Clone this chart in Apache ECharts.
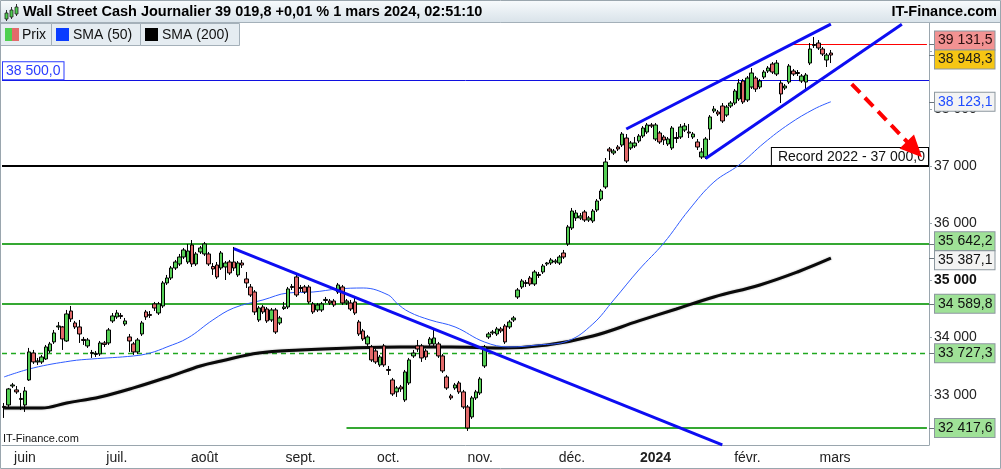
<!DOCTYPE html>
<html><head><meta charset="utf-8">
<script src="https://cdn.jsdelivr.net/npm/echarts@6/dist/echarts.min.js"></script>
<style>html,body{margin:0;padding:0;background:#fff}#c{width:1001px;height:469px}</style>
</head><body><div id="c"></div>
<script>
const categories = [
'2023-05-25','2023-05-26','2023-05-29','2023-05-30','2023-05-31',
'2023-06-01','2023-06-02','2023-06-05','2023-06-06','2023-06-07','2023-06-08','2023-06-09','2023-06-12','2023-06-13','2023-06-14','2023-06-15','2023-06-16','2023-06-19','2023-06-20','2023-06-21','2023-06-22','2023-06-23','2023-06-26','2023-06-27','2023-06-28','2023-06-29','2023-06-30',
'2023-07-03','2023-07-04','2023-07-05','2023-07-06','2023-07-07','2023-07-10','2023-07-11','2023-07-12','2023-07-13','2023-07-14','2023-07-17','2023-07-18','2023-07-19','2023-07-20','2023-07-21','2023-07-24','2023-07-25','2023-07-26','2023-07-27','2023-07-28','2023-07-31',
'2023-08-01','2023-08-02','2023-08-03','2023-08-04','2023-08-07','2023-08-08','2023-08-09','2023-08-10','2023-08-11','2023-08-14','2023-08-15','2023-08-16','2023-08-17','2023-08-18','2023-08-21','2023-08-22','2023-08-23','2023-08-24','2023-08-25','2023-08-28','2023-08-29','2023-08-30','2023-08-31',
'2023-09-01','2023-09-04','2023-09-05','2023-09-06','2023-09-07','2023-09-08','2023-09-11','2023-09-12','2023-09-13','2023-09-14','2023-09-15','2023-09-18','2023-09-19','2023-09-20','2023-09-21','2023-09-22','2023-09-25','2023-09-26','2023-09-27','2023-09-28','2023-09-29',
'2023-10-02','2023-10-03','2023-10-04','2023-10-05','2023-10-06','2023-10-09','2023-10-10','2023-10-11','2023-10-12','2023-10-13','2023-10-16','2023-10-17','2023-10-18','2023-10-19','2023-10-20','2023-10-23','2023-10-24','2023-10-25','2023-10-26','2023-10-27','2023-10-30','2023-10-31',
'2023-11-01','2023-11-02','2023-11-03','2023-11-06','2023-11-07','2023-11-08','2023-11-09','2023-11-10','2023-11-13','2023-11-14','2023-11-15','2023-11-16','2023-11-17','2023-11-20','2023-11-21','2023-11-22','2023-11-23','2023-11-24','2023-11-27','2023-11-28','2023-11-29','2023-11-30',
'2023-12-01','2023-12-04','2023-12-05','2023-12-06','2023-12-07','2023-12-08','2023-12-11','2023-12-12','2023-12-13','2023-12-14','2023-12-15','2023-12-18','2023-12-19','2023-12-20','2023-12-21','2023-12-22','2023-12-26','2023-12-27','2023-12-28','2023-12-29',
'2024-01-02','2024-01-03','2024-01-04','2024-01-05','2024-01-08','2024-01-09','2024-01-10','2024-01-11','2024-01-12','2024-01-15','2024-01-16','2024-01-17','2024-01-18','2024-01-19','2024-01-22','2024-01-23','2024-01-24','2024-01-25','2024-01-26','2024-01-29','2024-01-30','2024-01-31',
'2024-02-01','2024-02-02','2024-02-05','2024-02-06','2024-02-07','2024-02-08','2024-02-09','2024-02-12','2024-02-13','2024-02-14','2024-02-15','2024-02-16','2024-02-19','2024-02-20','2024-02-21','2024-02-22','2024-02-23','2024-02-26','2024-02-27','2024-02-28','2024-02-29',
'2024-03-01','2024-03-04','2024-03-05','2024-03-06','2024-03-07','2024-03-08','2024-03-11','2024-03-12','2024-03-13','2024-03-14','2024-03-15','2024-03-18','2024-03-19','2024-03-20','2024-03-21','2024-03-22','2024-03-25','2024-03-26','2024-03-27','2024-03-28','2024-03-29',
'2024-04-01','2024-04-02'];

// [open, close, low, high]
const ohlc = [
[32796,32778,32595,32857],[32822,33102,32787,33119],[33154,33172,33119,33207],[33085,33050,33015,33154],[32936,32919,32735,33032],
[32822,33067,32700,33137],[33259,33749,33242,33819],[33731,33574,33539,33784],[33574,33591,33522,33644],[33574,33661,33539,33696],
[33626,33836,33609,33871],[33766,33889,33731,33924],[33924,34081,33889,34133],[34186,34203,34133,34273],[34186,33976,33784,34203],
[33941,34413,33924,34483],[34465,34326,34273,34553],[34256,34186,34151,34291],[34186,34063,33906,34308],[33968,33950,33871,34011],
[33854,33958,33819,33993],[33740,33723,33644,33784],[33723,33705,33661,33766],[33714,33906,33679,33941],[33906,33880,33836,33941],
[33906,34133,33871,34168],[34291,34378,34256,34430],[34361,34430,34326,34483],[34387,34369,34326,34430],[34238,34291,34203,34343],
[34011,33941,33749,34063],[33889,33749,33696,33924],[33749,33958,33714,33993],[34063,34256,34028,34291],[34448,34361,34308,34483],
[34404,34387,34343,34465],[34588,34518,34465,34623],[34430,34588,34395,34623],[34553,34955,34518,34990],[34955,35042,34920,35095],
[35042,35217,35007,35252],[35217,35322,35182,35357],[35287,35409,35252,35462],[35409,35532,35374,35567],[35322,35514,35287,35637],
[35619,35287,35235,35706],[35287,35462,35252,35497],[35497,35567,35462,35602],[35462,35637,35427,35672],[35462,35287,35252,35497],
[35243,35200,35095,35304],[35269,35060,35025,35322],[35217,35479,35182,35514],[35235,35304,35007,35339],[35322,35130,35095,35357],
[35322,35217,35165,35584],[35095,35304,35060,35339],[35304,35269,35217,35357],[35025,34955,34867,35147],[34885,34745,34710,34937],
[34797,34448,34395,34832],[34308,34518,34273,34553],[34535,34448,34413,34570],[34500,34291,34256,34535],[34308,34483,34273,34518],
[34483,34098,34063,34518],[34256,34343,34221,34378],[34509,34535,34483,34623],[34535,34850,34500,34885],[34894,34876,34832,34937],
[35060,34745,34710,35095],[34876,34859,34797,34920],[34885,34797,34762,34920],[34885,34623,34588,34920],[34588,34448,34413,34623],
[34483,34570,34448,34605],[34483,34588,34448,34623],[34649,34667,34605,34710],[34640,34605,34570,34675],[34640,34570,34535,34675],
[34797,34920,34762,34955],[34885,34605,34570,34920],[34605,34640,34570,34675],[34605,34500,34465,34658],[34623,34430,34395,34728],
[34273,34063,34028,34308],[34116,33976,33941,34151],[33889,34011,33854,34046],[33836,33609,33574,33871],[33766,33574,33539,33801],
[33522,33661,33487,33696],[33854,33522,33487,33889],[33443,33426,33347,33504],[33259,33015,32980,33294],[33050,33119,32962,33154],
[33137,33102,33050,33172],[32910,33399,32875,33434],[33207,33609,33172,33644],[33679,33731,33644,33784],[33854,33801,33749,33958],
[33854,33644,33574,33889],[33766,33661,33609,33801],[33889,33976,33854,34011],[33889,33993,33854,34133],[33889,33679,33644,33924],
[33679,33417,33382,33714],[33312,33119,33085,33347],[32980,32945,32910,33015],[33119,33172,33085,33207],[33207,33050,33015,33242],
[33050,32787,32752,33085],[32787,32420,32368,32822],[32613,32945,32578,32980],[32945,33050,32910,33085],[33032,33277,32997,33312],
[33504,33836,33469,33871],[34011,34063,33976,34098],[34081,34098,34046,34133],[34063,34151,34028,34186],[34151,34116,34081,34186],
[34203,33924,33889,34238],[34186,34273,34151,34308],[34308,34343,34273,34378],[34710,34832,34675,34867],[34885,34990,34850,35025],
[34964,34946,34885,35007],[35042,34937,34902,35077],[34937,35147,34902,35182],[35104,35086,35042,35147],[35147,35252,35112,35287],
[35287,35304,35252,35322],[35304,35357,35269,35392],[35322,35339,35287,35374],[35304,35409,35269,35444],[35479,35409,35374,35532],
[35637,35934,35602,35969],[35916,36213,35881,36266],[36091,36178,36039,36231],[36091,36126,36056,36178],[36196,36056,36021,36231],
[36056,36091,36021,36126],[36039,36213,36004,36248],[36231,36388,36196,36423],[36423,36563,36388,36598],[36633,37070,36598,37140],
[37297,37262,37105,37332],[37227,37262,37192,37297],[37332,37297,37262,37367],[37367,37559,37332,37594],[37489,37087,37052,37559],
[37315,37402,37280,37437],[37350,37402,37315,37507],[37437,37524,37402,37559],[37524,37664,37489,37699],[37594,37717,37559,37752],
[37717,37699,37664,37752],[37472,37717,37437,37752],[37577,37420,37385,37612],[37507,37454,37367,37542],[37385,37472,37350,37507],
[37315,37664,37280,37699],[37498,37481,37402,37594],[37507,37682,37472,37734],[37629,37699,37594,37752],[37594,37577,37489,37734],
[37507,37559,37472,37594],[37420,37332,37280,37472],[37157,37245,37122,37315],[37157,37472,37122,37507],[37647,37857,37454,37891],
[37961,37996,37926,38049],[37944,37909,37874,37979],[38049,37787,37752,38101],[37891,38031,37857,38066],[38049,38101,38014,38136],
[38101,38311,38066,38346],[38171,38451,38136,38521],[38486,38119,38084,38521],[38154,38538,38119,38573],[38381,38626,38346,38713],
[38538,38346,38294,38573],[38381,38486,38346,38521],[38556,38643,38521,38678],[38661,38713,38626,38748],[38783,38643,38608,38818],
[38608,38800,38573,38853],[38451,38259,38101,38503],[38363,38398,38328,38433],[38468,38748,38433,38783],[38661,38608,38573,38696],
[38634,38617,38573,38678],[38486,38573,38451,38608],[38468,38591,38328,38626],[38800,39045,38765,39150],[39124,39106,39063,39255],
[39150,39063,39028,39202],[39045,38958,38923,39080],[38853,38940,38731,38975],[38975,38940,38800,39028]
];

// [category index, value]
const sma50 = [[0,33312],[7,33469],[16,33591],[21,33626],[31,33679],[35,33731],[39,33836],[44,33993],[50,34308],[55,34518],
[62,34658],[68,34780],[74,34797],[80,34850],[86,34867],[92,34745],[94,34605],[97,34448],[102,34308],[108,34186],[115,33924],
[121,33836],[128,33871],[135,33941],[141,34238],[146,34658],[152,35182],[158,35654],[164,36231],[170,36720],[176,37017],
[182,37402],[188,37734],[194,37996],[198,38123.1]];
const sma200 = [[0,32770],[9,32770],[15,32857],[23,32962],[31,33120],[40,33329],[47,33504],[52,33591],[61,33731],[71,33784],
[83,33819],[95,33836],[107,33836],[119,33819],[130,33871],[141,34028],[152,34291],[161,34500],[170,34710],[181,34920],
[190,35147],[198,35387.1]];

const greenLevels = [35642.2, 34589.8];
const lowLevel = [[82, 32417.6], [221, 32417.6]];
const dashedLevel = 33727.3;
const recordLevel = 37000;
const blueLevel = 38500;
const highLevel = [[188, 39131.5], [221, 39131.5]];
const downTrend = [[55, 35556], [172, 32125]];
const channelUpper = [[149, 37647], [198, 39480]];
const channelLower = [[168, 37131], [215, 39480]];
const arrowLine = [[203, 38433], [218, 37290]];
const yTicks = [33000, 34000, 35000, 36000, 37000, 38000, 39000];
const tagValues = [39131.5, 38948.3, 38123.1, 35642.2, 35387.1, 34589.8, 33727.3, 32417.6];
const titleText = 'Wall Street Cash Journalier 39 019,8 +0,01 % 1 mars 2024, 02:51:10';
const monthNames = ['2024', 'févr.', 'mars', '', '', 'juin', 'juil.', 'août', 'sept.', 'oct.', 'nov.', 'déc.'];

const FONT = '"Liberation Sans", Arial, sans-serif';
function fr(v, d) {
  const s = v.toFixed(d).split('.');
  const i = s[0].replace(/\B(?=(\d{3})+(?!\d))/g, ' ');
  return s[1] ? i + ',' + s[1] : i;
}
function isMonthStart(i) {
  if (i === 0) return false;
  return categories[i].slice(0, 7) !== categories[i - 1].slice(0, 7);
}
function labelShown(i) {
  return isMonthStart(i) && categories[i].slice(5, 7) !== '04';
}

const chart = echarts.init(document.getElementById('c'), null, {renderer: 'canvas'});
const GREEN = '#35a833';
const BLUE = '#0d0df2';

const option = {
  animation: false,
  grid: {left: 2, right: 72, top: 23, bottom: 24},
  xAxis: {
    type: 'category', data: categories, boundaryGap: true,
    axisLine: {lineStyle: {color: '#9aa6ae'}},
    axisTick: {alignWithLabel: true, length: 3, interval: (i) => isMonthStart(i), lineStyle: {color: '#9aa6ae'}},
    axisLabel: {
      interval: (i) => labelShown(i), margin: 6, color: '#222', fontSize: 14, fontFamily: FONT,
      formatter: (v) => { const m = parseInt(v.slice(5, 7), 10) - 1; const n = monthNames[m]; return m === 0 ? '{b|' + n + '}' : n; },
      rich: {b: {fontWeight: 'bold', fontSize: 14, fontFamily: FONT, color: '#222'}}
    },
    splitLine: {show: false}
  },
  yAxis: {
    type: 'value', position: 'right', min: 32122, max: 39500, scale: true,
    axisLine: {show: true, lineStyle: {color: '#9aa6ae'}},
    axisTick: {show: true, length: 3, customValues: yTicks, lineStyle: {color: '#9aa6ae'}},
    axisLabel: {
      customValues: yTicks, margin: 5, color: '#222', fontSize: 14, fontFamily: FONT,
      formatter: (v) => v === 35000 ? '{b|' + fr(v, 0) + '}' : fr(v, 0),
      rich: {b: {fontWeight: 'bold', fontSize: 14, fontFamily: FONT, color: '#111'}}
    },
    splitLine: {show: false}
  },
  series: [
    {
      name: 'levels', type: 'line', data: [], z: 1,
      markLine: {
        silent: true, symbol: ['none', 'none'], animation: false, z: 1,
        label: {show: false}, lineStyle: {type: 'solid'},
        data: [
          {yAxis: greenLevels[0], lineStyle: {color: GREEN, width: 2, type: 'solid'}},
          {yAxis: greenLevels[1], lineStyle: {color: GREEN, width: 2, type: 'solid'}},
          [{coord: lowLevel[0], lineStyle: {color: GREEN, width: 2, type: 'solid'}}, {coord: lowLevel[1]}],
          {yAxis: dashedLevel, lineStyle: {color: '#20a820', width: 1.3, type: [5, 4]}},
          {yAxis: recordLevel, lineStyle: {color: '#000', width: 2, type: 'solid'},
            label: {show: true, position: 'insideEndTop', distance: 1, formatter: 'Record 2022 - ' + fr(recordLevel, 1),
              backgroundColor: '#fff', borderColor: '#000', borderWidth: 1, padding: [2, 3, 1, 6],
              color: '#111', fontSize: 14, fontFamily: FONT}},
          {yAxis: blueLevel, lineStyle: {color: '#1010e0', width: 1, type: 'solid'},
            label: {show: true, position: 'insideStartTop', distance: 1, formatter: fr(blueLevel, 1),
              backgroundColor: '#fff', borderColor: '#2a3cff', borderWidth: 1, padding: [2, 3, 1, 3],
              color: '#2a3cff', fontSize: 14, fontFamily: FONT}},
          [{coord: highLevel[0], lineStyle: {color: '#ff0000', width: 1, type: 'solid'}}, {coord: highLevel[1]}]
        ]
      }
    },
    {
      name: 'SMA (200)', type: 'line', data: sma200, smooth: 0.4, showSymbol: false, z: 1,
      lineStyle: {color: '#0a0a0a', width: 3, shadowColor: 'rgba(0,0,0,0.35)', shadowBlur: 2}
    },
    {
      name: 'SMA (50)', type: 'line', data: sma50, smooth: 0.4, showSymbol: false, z: 1,
      lineStyle: {color: '#2f5bff', width: 1}
    },
    {
      name: 'Prix', type: 'candlestick', data: ohlc, barWidth: 4, z: 2,
      itemStyle: {color: '#55cf55', color0: '#e26a6a', borderColor: '#000', borderColor0: '#000', borderWidth: 1}
    },
    {
      name: 'trends', type: 'line', data: [], z: 5,
      markLine: {
        silent: true, symbol: ['none', 'none'], animation: false, z: 5,
        label: {show: false}, lineStyle: {type: 'solid'},
        data: [
          [{coord: downTrend[0], lineStyle: {color: BLUE, width: 3, type: 'solid'}}, {coord: downTrend[1]}],
          [{coord: channelUpper[0], lineStyle: {color: BLUE, width: 3, type: 'solid'}}, {coord: channelUpper[1]}],
          [{coord: channelLower[0], lineStyle: {color: BLUE, width: 3, type: 'solid'}}, {coord: channelLower[1]}],
          [{coord: arrowLine[0], symbol: 'none', lineStyle: {color: '#ff0000', width: 4, type: [12, 7]}},
           {coord: arrowLine[1], symbol: 'triangle', symbolSize: [20, 22]}]
        ]
      }
    }
  ]
};
chart.setOption(option);

// header, legend, tags
const g = [];
g.push({type: 'rect', z: 100, shape: {x: 0, y: 0, width: 1001, height: 23},
  style: {fill: new echarts.graphic.LinearGradient(0, 0, 0, 1, [{offset: 0, color: '#f8fbfd'}, {offset: 1, color: '#d8e2e9'}])}});
g.push({type: 'line', z: 101, shape: {x1: 0, y1: 22.5, x2: 1001, y2: 22.5}, style: {stroke: '#a4b0b9', lineWidth: 1}});
// icon
[[5, 13, 6], [10, 10, 7], [15, 7, 7]].forEach(function (c) {
  g.push({type: 'line', z: 101, shape: {x1: c[0] + 1.5, y1: c[1] - 3, x2: c[0] + 1.5, y2: c[1] + c[2] + 2}, style: {stroke: '#333', lineWidth: 1}});
  g.push({type: 'rect', z: 102, shape: {x: c[0], y: c[1], width: 3, height: c[2]}, style: {fill: '#4fcf4f', stroke: '#222', lineWidth: 0.8}});
});
g.push({type: 'text', z: 102, x: 23, y: 12, style: {text: titleText, font: 'bold 14.5px ' + FONT, fill: '#000', align: 'left', verticalAlign: 'middle'}});
g.push({type: 'text', z: 102, x: 997, y: 12, style: {text: 'IT-Finance.com', font: 'bold 14.5px ' + FONT, fill: '#000', align: 'right', verticalAlign: 'middle'}});
// legend boxes
const legendBoxes = [[0, 51, 'Prix'], [51, 89, 'SMA (50)'], [140, 99, 'SMA (200)']];
legendBoxes.forEach(function (b, k) {
  g.push({type: 'rect', z: 100, shape: {x: b[0] + 0.5, y: 23.5, width: b[1], height: 22}, style: {fill: '#e5ecf1', stroke: '#a4b0b9', lineWidth: 1}});
  const ix = b[0] + 5;
  if (k === 0) {
    g.push({type: 'rect', z: 101, shape: {x: ix, y: 28, width: 7, height: 13}, style: {fill: '#4fcf4f'}});
    g.push({type: 'rect', z: 101, shape: {x: ix + 7, y: 28, width: 7, height: 13}, style: {fill: '#e26a6a'}});
  } else {
    g.push({type: 'rect', z: 101, shape: {x: ix, y: 28, width: 13, height: 13}, style: {fill: k === 1 ? '#0a3cff' : '#000'}});
  }
  g.push({type: 'text', z: 101, x: ix + 17, y: 35, style: {text: b[2], font: '14px ' + FONT, fill: '#111', align: 'left', verticalAlign: 'middle'}});
});
// watermark
g.push({type: 'text', z: 100, x: 3, y: 439, style: {text: 'IT-Finance.com', font: '11px ' + FONT, fill: '#111', align: 'left', verticalAlign: 'middle'}});
// right tags
const tagStyles = [
  ['#f29292', '#2a1010', -3.5], ['#f6c614', '#1a1a1a', 5], ['#f3f3f3', '#1f4cff', 0], ['#9fe197', '#111', -2.5],
  ['#f3f3f3', '#111', 2], ['#9fe197', '#111', 0], ['#9fe197', '#111', 0], ['#9fe197', '#111', 0]
];
tagValues.forEach(function (v, k) {
  const y = chart.convertToPixel({yAxisIndex: 0}, v);
  const s = tagStyles[k];
  g.push({type: 'line', z: 100, shape: {x1: 929, y1: Math.round(y) + 0.5, x2: 935, y2: Math.round(y) + 0.5}, style: {stroke: '#6a747c', lineWidth: 1}});
  g.push({type: 'text', z: 101, x: 935, y: y + s[2], style: {
    text: fr(v, 1), font: '14px ' + FONT, fill: s[1], align: 'left', verticalAlign: 'middle',
    backgroundColor: s[0], borderColor: '#8c979f', borderWidth: 1, padding: [2, 2, 1, 3], lineHeight: 15
  }});
});
// outer frame
g.push({type: 'rect', z: 110, shape: {x: 0.5, y: 0.5, width: 1000, height: 468}, style: {fill: 'none', stroke: '#9aa6ae', lineWidth: 1}});
chart.setOption({graphic: g});
</script>
</body></html>
